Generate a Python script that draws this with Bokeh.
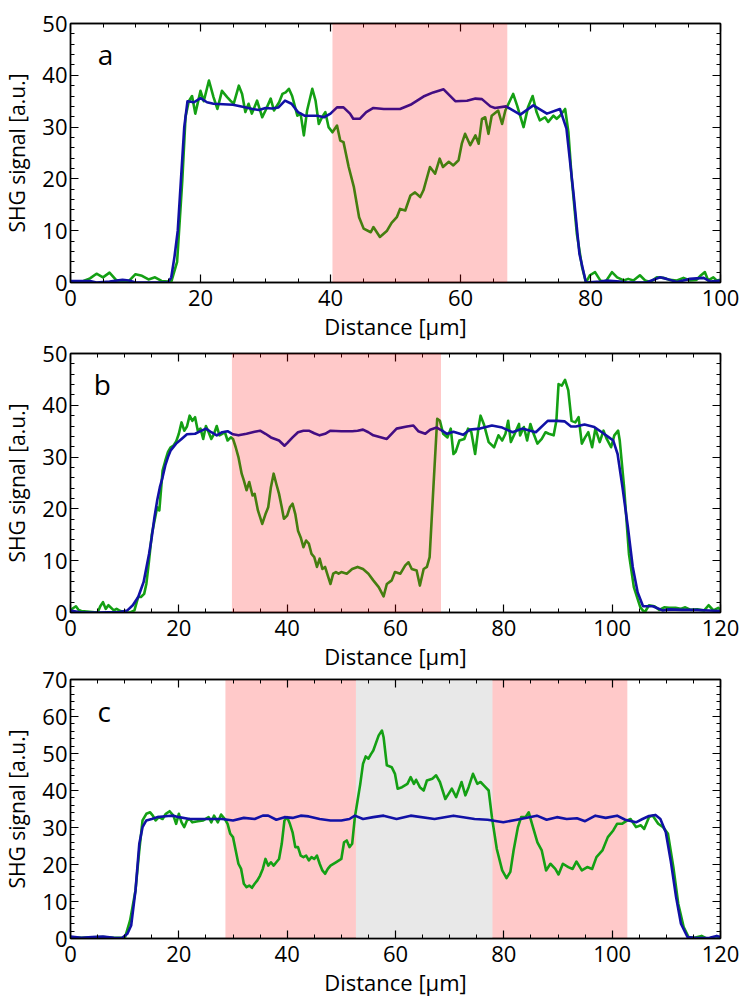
from bokeh.plotting import figure
from bokeh.layouts import column
from bokeh.models import Range1d, LinearAxis, SingleIntervalTicker, Label, BoxAnnotation, CustomJSTickFormatter
from bokeh.embed import file_html
from bokeh.resources import INLINE

# ---------------- data ----------------
# Panel a
a_green_x = [0, 1, 2, 3, 4, 5, 6, 7, 8, 9, 10, 11, 12, 13, 14, 15, 15.5, 16.4, 17.2, 17.7, 18.2, 18.7, 19.2, 20, 20.5,
             21.3, 22, 22.6, 23.3, 24.1, 24.6, 25.1, 25.9, 26.4, 26.9, 27.4, 27.9, 28.7, 29.5, 30, 30.8, 31.3, 32.1,
             32.6, 33.1, 33.6, 34.1, 34.9, 35.4, 35.9, 36.4, 37.2, 37.7, 38.2, 38.7, 39.2, 39.7, 40.3, 41, 41.5, 42,
             42.8, 43.6, 44.4, 45.1, 46.2, 46.6, 47.6, 48.7, 49.4, 50.2, 50.7, 51.5, 52.3, 53, 53.8, 54.3, 55.3, 56.1,
             56.8, 57.3, 58.2, 58.9, 59.7, 60.2, 60.7, 61.5, 62.3, 62.8, 63.3, 63.8, 64.3, 64.8, 65.8, 66.4, 66.9,
             67.6, 68.1, 68.7, 69.7, 70.4, 71.1, 71.7, 72.2, 73, 73.5, 74.3, 74.8, 75.3, 76.1, 76.6, 77.1, 77.9, 78.7,
             79.3, 79.9, 80.7, 81.5, 82.3, 83.3, 84.1, 85.1, 85.8, 86.6, 87.6, 88.4, 89.2, 90.2, 91.2, 92.2, 93.3,
             94.3, 95.3, 96.3, 97, 97.6, 98.1, 98.9, 99.4, 100]
a_green_y = [0.2, 0.2, 0.3, 0.8, 1.7, 1.0, 1.9, 0.5, 0.1, 0.3, 1.6, 1.3, 0.6, 1.0, 0.3, 0.2, 0.1, 4, 19.7, 32, 35, 36,
             32.6, 37, 35, 39, 35.8, 33.5, 37, 35.8, 35.1, 34.5, 38, 36.4, 32.9, 34.5, 32.6, 35.1, 31.9, 33.2, 35.5,
             33.2, 34.8, 36.4, 36.7, 37.4, 36, 32.2, 32.6, 28.4, 33.2, 37.4, 35.1, 30.6, 31.9, 32.9, 30, 29, 30.3,
             27.4, 27.1, 22.3, 18.4, 12.6, 10.4, 9.7, 10.7, 8.8, 10, 11.5, 12.6, 14.2, 13.9, 16.8, 17.4, 16.5, 17.8,
             22.3, 21, 23.9, 22.3, 23.3, 22.6, 23.6, 26.8, 28.7, 26.5, 28.4, 26.8, 31.6, 31.9, 28.7, 32.2, 33.2,
             30.6, 33.2, 35.1, 36.4, 34.2, 30, 33.9, 36, 32.9, 31.3, 31.9, 31, 32.2, 31.6, 32.2, 33.5, 29, 20.3, 9.4,
             3, 0, 1.4, 2, 0.4, 0.1, 2, 1, 0.4, 0.7, 0.4, 1.4, 0.4, 0.1, 1, 0.9, 0.5, 0.4, 0.9, 0.4, 0.5, 1.4, 2, 0.4,
             1, 0.4, 0.5]
a_blue_x = [0, 3, 4, 6, 8, 9, 10, 15, 15.5, 16, 16.5, 17, 17.5, 18, 19, 20, 21, 22, 25, 27, 28, 29, 30, 31, 32, 33,
            34, 35, 36, 37, 38, 39, 40, 41, 42, 43, 43.5, 44.5, 45.5, 46.6, 48.2, 50.7, 52.3, 54.3, 55.8, 57.4, 59.2,
            61, 62.3, 63.3, 64.6, 65.3, 67, 69.2, 71.2, 73.3, 75.3, 76.3, 77.4, 78.3, 79.3, 81.5, 82.5, 84.5, 85.6,
            88.6, 90.7, 91.7, 93.3, 95.3, 97.4, 98.4, 100]
a_blue_y = [0.3, 0.3, 0, 0.2, 0.5, 0.4, 0, 0, 1, 5, 10, 20, 30, 35, 34.8, 35.6, 34.8, 34.5, 34.3, 33.8, 33.5, 33.3,
            33.7, 33.6, 33.8, 35.1, 34.5, 32.9, 32.2, 32.2, 32.2, 31.9, 32.6, 33.8, 33.8, 32.6, 31.6, 31.6, 32.9, 33.7,
            33.5, 33.5, 34.3, 35.9, 36.7, 37.3, 35, 35.1, 35.5, 35.4, 34, 33.7, 34, 32.4, 34.2, 32.6, 33.5, 29.7, 17,
            5.5, 0, 0.2, 0.4, 0.2, 0, 0, 1, 0.7, 0.1, 0.7, 0.9, 0.2, 0.4]
a_shade = [(40.3, 67.2, "pink")]

# Panel b
b_green_x = [0, 1, 1.5, 2, 4, 5, 5.5, 6, 6.5, 7, 8, 8.5, 9, 10, 11, 11.8, 12.5, 13, 13.6, 14, 14.5, 15, 16, 16.4, 17,
             17.5, 18, 18.5, 19, 19.5, 20, 20.5, 21, 21.5, 22, 22.5, 23, 23.5, 24, 24.5, 25, 25.5, 26, 26.5, 27, 27.5,
             28, 28.5, 29, 29.6, 30, 30.5, 31, 31.6, 32, 32.5, 33, 33.6, 34, 34.6, 35, 35.4, 36, 36.5, 37, 37.5, 38,
             38.5, 39, 39.4, 40, 40.5, 41, 41.5, 42, 42.5, 43, 43.5, 44, 44.5, 45, 45.5, 46, 46.5, 47, 47.5, 48, 48.5,
             49, 49.5, 50, 51, 52, 53, 54, 55, 55.9, 56.9, 57.8, 58.4, 59.3, 59.9, 60.9, 61.8, 62.4, 63, 63.9, 64.5,
             65.2, 65.8, 66.3, 67, 67.7, 68.2, 68.8, 69.6, 70.2, 70.7, 71.1, 71.8, 72.7, 73.4, 74, 74.7, 75.3, 75.7,
             76.3, 77.2, 78.2, 79, 79.7, 80.3, 80.8, 81.3, 82, 82.8, 83, 83.7, 84.3, 84.9, 85.5, 86.2, 87, 87.7, 88.3,
             89.2, 89.7, 90.1, 90.7, 91.3, 91.9, 92.5, 93.2, 93.8, 94.4, 95, 95.6, 96.3, 96.9, 97.7, 98.4, 99, 99.8,
             100.4, 101.1, 101.4, 102.2, 103.1, 104, 105.2, 106, 106.8, 107.8, 108.7, 109.6, 110.5, 111.7, 112.6,
             113.5, 114.5, 115.7, 117, 117.8, 118.7, 119.6, 120]
b_green_y = [0.5, 1.2, 0.5, 0.3, 0.1, 0, 1.2, 2, 0.7, 1.4, 0.4, 0.7, 0.4, 0, 0, 0.4, 3, 3, 3.6, 5.5, 10, 15, 20.3,
             19.7, 27.4, 29.3, 31, 31.9, 32.2, 33, 34.5, 36.7, 35.1, 35.9, 38, 37, 37.7, 35.1, 35.5, 33.5, 36, 34.8,
             33.5, 34.5, 36, 34.2, 34.5, 34.8, 33.2, 33.8, 33.5, 31.9, 30, 26.8, 25.5, 23.6, 25.2, 22.6, 22.9, 19.7,
             18.4, 17.1, 19, 20.3, 24.2, 26.8, 24.8, 22.9, 20.3, 18.1, 18.7, 20.3, 21, 19, 15.8, 14.5, 12.6, 13.9,
             13.3, 11.3, 10.7, 8.8, 10.4, 8.4, 8.8, 7.1, 5.5, 7.5, 7.8, 7.5, 7.8, 7.5, 8.4, 8.8, 8.4, 7.5, 6.2, 4.9,
             3.1, 5.5, 6.2, 7.8, 7.5, 9.1, 9.7, 8.4, 8.1, 5.2, 8.4, 8.8, 10.7, 24.2, 37.4, 37, 34.5, 33.8, 35.5, 30.6,
             31, 33.2, 33.5, 35.5, 34.8, 30.6, 35.5, 38, 36.4, 32.9, 31.9, 34.2, 33.2, 34.5, 37, 32.9, 34.5, 36.4,
             34.2, 35.8, 33.2, 36.4, 34.5, 32.6, 33.5, 34.8, 34.5, 34.2, 37, 44.1, 43.8, 44.9, 42.9, 37, 36.7, 37.7,
             32.6, 33.8, 34.8, 31.9, 35.5, 32.9, 35.1, 33.5, 31.9, 34.2, 35.1, 33.2, 24.2, 11.3, 4.9, 1, 0, 1.4, 1.2,
             0.5, 1, 0.9, 0.9, 0.7, 1, 0.5, 0.6, 0.4, 1.4, 0.4, 0.9, 0.5]
b_blue_x = [0, 2, 5, 9, 10.5, 11.5, 12.5, 13.5, 14.5, 15, 15.5, 16, 16.5, 17, 17.5, 18, 18.5, 19.5, 20.5, 21.5, 23, 24,
            25, 26, 27, 28, 29, 30, 31, 32.5, 34, 35, 36, 37, 38.5, 39.5, 40, 41, 42, 43, 44, 45, 46, 47, 48, 50, 52,
            53, 54, 55, 55.9, 58.4, 60.2, 62.1, 63.3, 64.2, 65.5, 66.4, 67.6, 68.6, 69.5, 70.7, 72.5, 73.7, 75.6,
            77.8, 79.7, 81.6, 83.4, 85.9, 88.1, 89.9, 91.2, 92.4, 93.3, 94.9, 96.7, 98.1, 99.4, 100.2, 101, 101.9,
            102.9, 103.8, 104.7, 105.7, 107.5, 109.3, 110.5, 112.9, 115.4, 117.9, 120]
b_blue_y = [0.4, 0, 0, 0.1, 0.4, 1.4, 3, 5.9, 11.3, 14.5, 18.4, 21.6, 24.2, 26.1, 28.4, 30, 31.3, 32.6, 33.5, 34.4,
            34.5, 35, 35.5, 34.8, 34.2, 34.8, 35, 34.4, 34.2, 34.5, 34.9, 35.1, 34.5, 33.8, 33.2, 32.2, 32.7, 33.8,
            34.8, 35.1, 35.1, 34.6, 34.2, 34.5, 35.1, 35, 35, 35.1, 35.3, 34.8, 34.2, 33.5, 35.5, 35.9, 36.1, 35,
            34.5, 35.3, 35.7, 35.1, 34.5, 34.9, 34.3, 35.3, 35.5, 36.1, 35.7, 34.8, 35.5, 34.8, 37, 37, 36.9, 35.9,
            35.9, 36.3, 35.8, 34.8, 33.8, 33.2, 30.6, 24.2, 16.5, 8.8, 3.9, 1.2, 1.2, 0.4, 0.6, 0.5, 0.5, 0.4, 0.3]
b_shade = [(29.8, 68.4, "pink")]

# Panel c
c_green_x = [0, 2, 4, 6, 8, 9.5, 10, 11, 12, 12.7, 13.3, 14, 14.7, 15.2, 15.7, 16.3, 17, 17.6, 18.3, 19, 19.5, 20,
             20.5, 21, 21.5, 22, 22.5, 23.5, 24.5, 25.5, 26, 26.5, 27.2, 27.8, 28.5, 29, 29.5, 30, 30.5, 31, 31.5, 32,
             32.5, 33, 33.5, 34, 34.5, 35, 35.5, 36, 36.5, 37, 37.5, 38, 38.5, 39, 39.5, 40, 40.5, 41, 41.5, 42, 42.5,
             43, 43.5, 44, 44.5, 45, 45.5, 46, 46.5, 47, 47.5, 48, 49, 50, 50.5, 51, 51.5, 52, 52.5, 53, 53.5, 54,
             54.5, 55, 55.5, 55.9, 56.9, 57.5, 57.8, 58.4, 59.3, 59.9, 60.4, 61.2, 62.2, 62.8, 63.4, 63.8, 64.5, 65.2,
             65.8, 66.8, 67.5, 68.2, 69.2, 69.8, 70.4, 71.2, 72.2, 72.9, 73.5, 74.3, 75.1, 75.7, 76.3, 77.2, 77.8,
             78.7, 79.7, 80.5, 81.2, 81.8, 82.6, 83.2, 84, 84.6, 85.2, 86.2, 87, 87.8, 88.6, 89.5, 90.1, 90.9, 91.9,
             92.7, 93.4, 94.4, 95.4, 96.3, 97.1, 98.2, 99.2, 100.2, 100.9, 101.8, 102.8, 103.4, 104.4, 105.3, 105.9,
             106.8, 107.5, 108.5, 109.4, 110.3, 111.3, 112.2, 113.2, 114.1, 115.2, 116.5, 117.4, 119.3, 120]
c_green_y = [0.3, 0.2, 0.3, 0.4, 0.2, 0.2, 0, 4.9, 13, 23.8, 31.9, 33.7, 34.1, 33.2, 31.9, 32.8, 32.3, 33.7, 34.4,
             33.2, 31, 33.7, 31.4, 30.1, 31.9, 32.3, 31.4, 31.7, 31.9, 32.8, 31.4, 33.2, 31.4, 33.5, 32.3, 31, 28.3,
             27.4, 23.8, 20.2, 18.8, 14.8, 13.9, 14.3, 13.7, 14.8, 15.7, 17, 18.8, 21.5, 19.7, 20.6, 19.7, 20.6, 21.5,
             25.6, 31.9, 32.8, 31, 28.7, 24.7, 24.7, 22.4, 22, 22.4, 21.1, 22, 21.5, 22.4, 20.2, 18.4, 17.5, 18.8,
             19.7, 20.6, 21.5, 26, 26.5, 24.7, 25.6, 32.8, 37.3, 41.8, 47.2, 49.2, 48.6, 49.9, 50.8, 54.9, 56.2, 54.4,
             46.8, 46.3, 44.5, 40.5, 40.9, 41.8, 43.6, 41.8, 42.9, 40.9, 40, 42.7, 43.2, 44.1, 42.3, 37.7, 39.1, 40.5,
             38.2, 42.3, 38.7, 40.9, 44.5, 41.8, 42.3, 41.4, 40, 32.8, 24.2, 18.4, 16.3, 18, 23.8, 30.1, 32.8, 32.8,
             34.1, 31, 26, 23.8, 18.4, 20.2, 18.8, 17.3, 20.2, 19.3, 18.8, 20.8, 18.4, 19.3, 18.8, 22, 23.8, 27.4,
             29.2, 31, 31, 31.9, 32.3, 30.1, 30.6, 29.6, 32.8, 33.2, 31, 30.1, 28.3, 19.3, 9.4, 3.1, 0.4, 0.2, 0.7,
             0, 0, 0.2]
c_blue_x = [0, 2, 4, 6, 8, 9.5, 10.5, 11.2, 12, 12.7, 13.3, 14, 15, 16, 18, 19, 20, 22, 25, 28, 30, 32, 34, 35.5,
            36.5, 38, 39.5, 41, 42.5, 44, 46, 48, 50, 51.5, 52.5, 54, 55.9, 57.8, 60.2, 62.8, 67.2, 70.7, 74.6, 77,
            79.9, 82.4, 86.1, 87.9, 89.8, 91.6, 93.5, 95, 96.9, 98.8, 100.9, 102.4, 104.4, 105.6, 106.8, 108,
            108.9, 109.9, 110.8, 111.8, 112.7, 113.9, 115.5, 118, 119.3, 120]
c_blue_y = [0.5, 0.2, 0.4, 0.5, 0.2, 0.1, 1.3, 3.5, 13, 25.6, 30.1, 31.9, 32.3, 32.8, 33.1, 33.2, 32.8, 32.3, 32.3,
            32.3, 31.9, 32.6, 32.3, 33.2, 33.2, 32.1, 32.8, 32.6, 33.2, 33, 32.3, 31.9, 31.9, 32.3, 33.2, 32.3,
            32.8, 33.2, 32.3, 33.2, 32.3, 33.2, 32.3, 32.1, 31.4, 32.1, 33.2, 32.1, 32.8, 32.3, 32.5, 31.7, 33.2,
            32.6, 33.2, 32.1, 31.4, 32.3, 33.1, 33.4, 32.3, 28.7, 21.1, 11.2, 4, 0.4, 0.1, 0.2, 0.7, 0.4]
c_shade = [(28.6, 52.7, "pink"), (52.7, 77.9, "gray"), (77.9, 102.8, "pink")]

X_LABEL = "Distance [µm]"
Y_LABEL = "SHG signal [a.u.]"

# letter, xmax, ymax, data..., shading, shade-over-lines, letter pos, css margin (top, bottom)
panels = [
    ("a", 100, 50, a_green_x, a_green_y, a_blue_x, a_blue_y, a_shade, True, 4.2, 44.1, 0, 0),
    ("b", 120, 50, b_green_x, b_green_y, b_blue_x, b_blue_y, b_shade, True, 4.3, 44.1, -22, 0),
    ("c", 120, 70, c_green_x, c_green_y, c_blue_x, c_blue_y, c_shade, False, 5.0, 61.5, -26, -11),
]

FONT = "Open Sans"
GREEN = "#14a014"
BLUE = "#1111a6"
SHADE = {"pink": ("#ff0000", 0.21), "gray": ("#d8d8d8", 0.6)}

blank = CustomJSTickFormatter(code="return ''")


def style_axis(ax, tick_standoff, label_standoff, label_size):
    ax.axis_line_color = "black"
    ax.axis_line_width = 1.4
    ax.major_tick_in = 8
    ax.major_tick_out = 0
    ax.minor_tick_in = 4
    ax.minor_tick_out = 0
    ax.major_tick_line_width = 1.2
    ax.minor_tick_line_width = 1.0
    ax.major_tick_line_color = "black"
    ax.minor_tick_line_color = "black"
    ax.major_label_text_font = FONT
    ax.major_label_text_font_size = "22px"
    ax.major_label_text_color = "black"
    ax.major_label_standoff = tick_standoff
    ax.axis_label_text_font = FONT
    ax.axis_label_text_font_size = label_size
    ax.axis_label_text_font_style = "normal"
    ax.axis_label_text_color = "black"
    ax.axis_label_standoff = label_standoff


figs = []
for (letter, xmax, ymax, gx, gy, bx, by, shades, shade_on_top, lx, ly, m_top, m_bot) in panels:
    p = figure(frame_width=650, frame_height=259, output_backend="svg", toolbar_location=None,
               x_range=Range1d(0, xmax), y_range=Range1d(0, ymax),
               min_border_left=70, min_border_right=20, min_border_top=23, min_border_bottom=70,
               x_axis_label=X_LABEL, y_axis_label=Y_LABEL,
               margin=(m_top, 0, m_bot, 0))
    p.border_fill_alpha = 0
    p.grid.visible = False
    p.outline_line_color = "black"
    p.outline_line_width = 1.4
    p.xaxis.ticker = SingleIntervalTicker(interval=20, num_minor_ticks=4)
    p.yaxis.ticker = SingleIntervalTicker(interval=10, num_minor_ticks=5)
    style_axis(p.xaxis[0], 7, 2, "22px")
    style_axis(p.yaxis[0], 3, 8, "21px")
    top = LinearAxis(ticker=SingleIntervalTicker(interval=20, num_minor_ticks=4), formatter=blank)
    right = LinearAxis(ticker=SingleIntervalTicker(interval=10, num_minor_ticks=5), formatter=blank)
    for ax in (top, right):
        style_axis(ax, 0, 0, "21px")
        ax.major_label_text_font_size = "0px"
    p.add_layout(top, "above")
    p.add_layout(right, "right")

    for x0, x1, kind in shades:
        col, alpha = SHADE[kind]
        lvl = "overlay" if (shade_on_top and kind == "pink") else "underlay"
        p.add_layout(BoxAnnotation(left=x0, right=x1, fill_color=col, fill_alpha=alpha,
                                   line_color=None, level=lvl))

    p.line(gx, gy, line_color=GREEN, line_width=2.6, line_join="round")
    p.line(bx, by, line_color=BLUE, line_width=2.6, line_join="round")

    p.add_layout(Label(x=lx, y=ly, text=letter, text_font=FONT, text_font_size="28px",
                       text_color="black", text_baseline="alphabetic"))
    figs.append(p)

layout = column(*figs, spacing=0)
open("out.html", "w").write(file_html(layout, INLINE))
